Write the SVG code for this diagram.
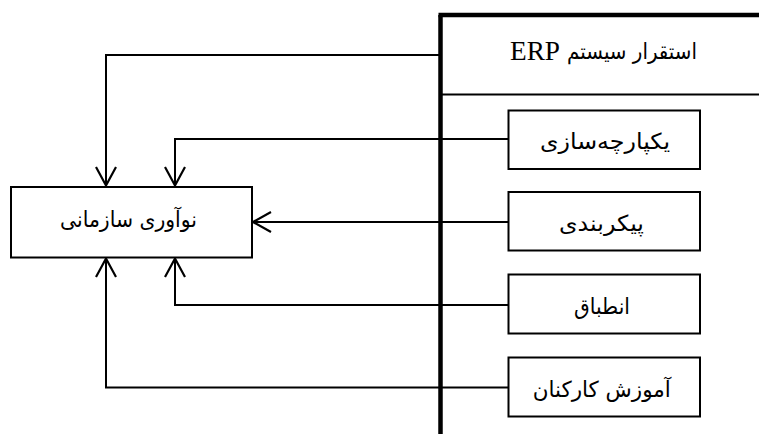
<svg xmlns="http://www.w3.org/2000/svg" width="759" height="434" viewBox="0 0 759 434">
<style>
.box{fill:#fff;stroke:#000;stroke-width:2}
.ln{fill:none;stroke:#000;stroke-width:2}
.thick{fill:none;stroke:#000;stroke-width:4.5}
.ah{fill:none;stroke:#000;stroke-width:2.2}
.t{font-family:"DejaVu Sans",sans-serif;font-size:22px;fill:#000;text-anchor:middle}
.en{font-family:"Liberation Serif",serif;font-size:27px;fill:#000}
</style>
<rect width="759" height="434" fill="#fff"/>
<g id="erp">
<line class="thick" x1="440.5" y1="15" x2="440.5" y2="434"/>
<line class="thick" x1="438.5" y1="15" x2="759" y2="15"/>
<line class="ln" x1="440.5" y1="94.5" x2="759" y2="94.5"/>
<text class="t" x="632" y="58.5" textLength="130" lengthAdjust="spacingAndGlyphs">استقرار سیستم</text>
<text class="en" x="510" y="59.5" textLength="50" lengthAdjust="spacingAndGlyphs">ERP</text>
</g>
<g id="connectors">
<polyline class="ln" points="440.5,55 106,55 106,186"/>
<polyline class="ah" points="96,167 106,185.5 116,167"/>
<polyline class="ln" points="508,139 175,139 175,186"/>
<polyline class="ah" points="165,167 175,185.5 185,167"/>
<polyline class="ln" points="508,222 253,222"/>
<polyline class="ah" points="271,212 253,222 271,232"/>
<polyline class="ln" points="508,305 175,305 175,258"/>
<polyline class="ah" points="165,277 175,258.5 185,277"/>
<polyline class="ln" points="508,387.5 106,387.5 106,258"/>
<polyline class="ah" points="96,277 106,258.5 116,277"/>
</g>
<g id="innovation">
<rect class="box" x="11" y="187" width="241" height="70.5"/>
<text class="t" x="128.5" y="227" textLength="137" lengthAdjust="spacingAndGlyphs">نوآوری سازمانی</text>
</g>
<g id="integration">
<rect class="box" x="508.5" y="110.5" width="191.5" height="58.5"/>
<text class="t" x="605" y="149" textLength="130" lengthAdjust="spacingAndGlyphs">یکپارچه‌سازی</text>
</g>
<g id="configuration">
<rect class="box" x="508.5" y="192" width="191.5" height="58.5"/>
<text class="t" x="601.5" y="230.5" textLength="85" lengthAdjust="spacingAndGlyphs">پیکربندی</text>
</g>
<g id="adaptation">
<rect class="box" x="508.5" y="274.5" width="191.5" height="59"/>
<text class="t" x="602" y="313.5" textLength="56" lengthAdjust="spacingAndGlyphs">انطباق</text>
</g>
<g id="training">
<rect class="box" x="508.5" y="357.5" width="191.5" height="59"/>
<text class="t" x="601.7" y="396.5" textLength="138" lengthAdjust="spacingAndGlyphs">آموزش کارکنان</text>
</g>
</svg>
